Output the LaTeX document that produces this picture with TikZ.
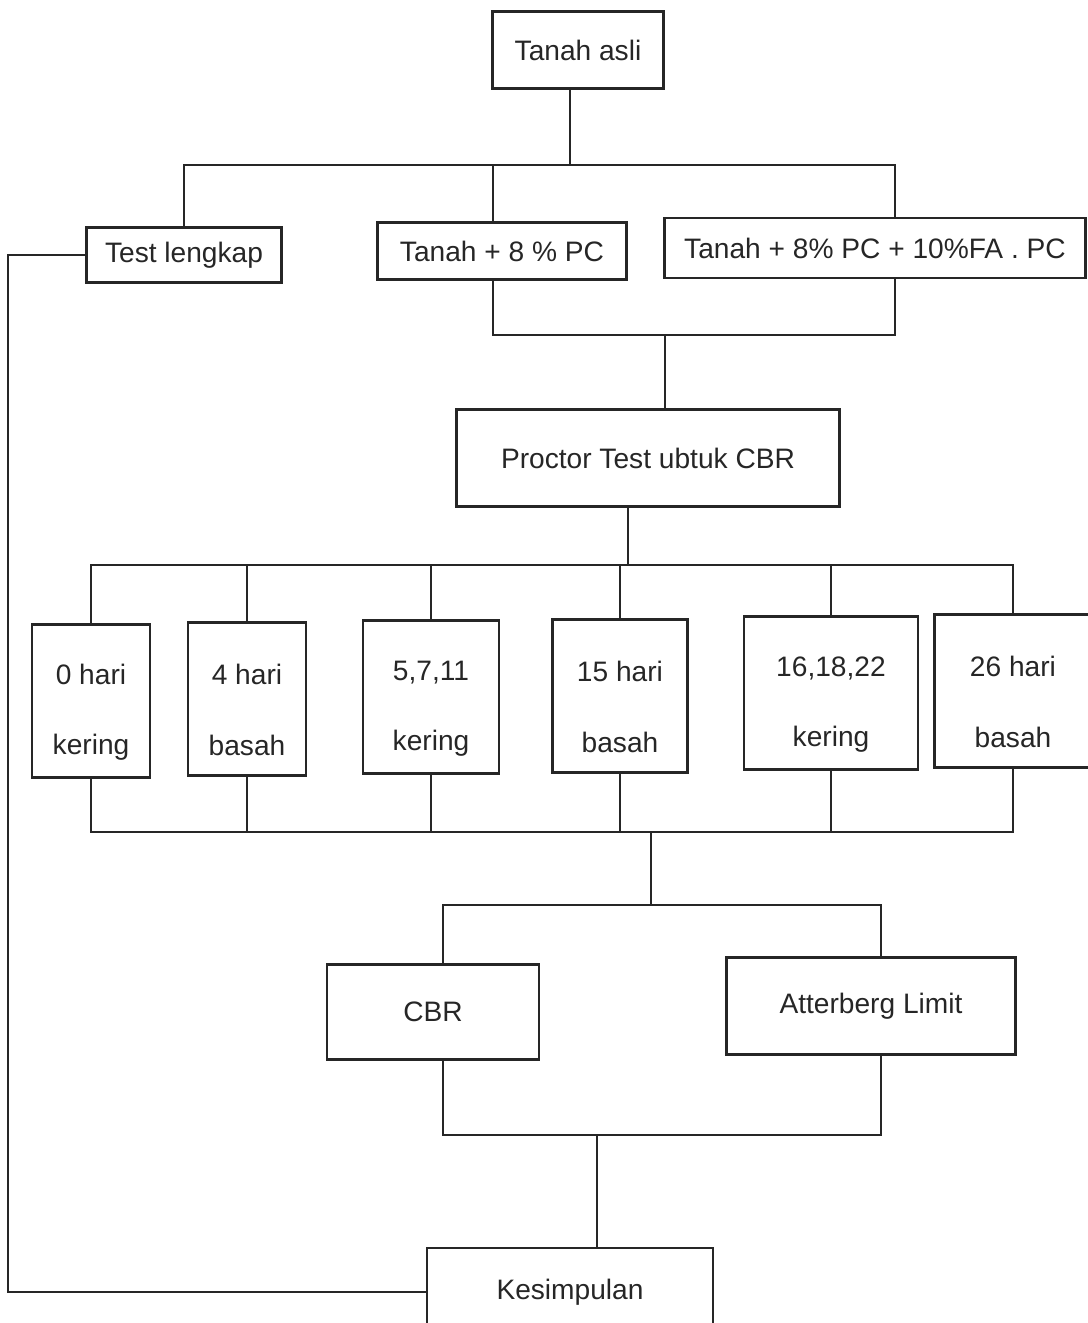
\documentclass[tikz,border=0pt]{standalone}
\usepackage{fontspec}
\setmainfont{Liberation Sans}
\usetikzlibrary{positioning, calc}
\definecolor{flowink}{HTML}{262626}
\tikzset{
  box/.style={rectangle, draw=flowink, line width=0.7pt, inner sep=0pt, align=center,
    text=flowink, font=\fontsize{8}{10}\selectfont},
  daybox/.style={box, minimum width=1.2cm, minimum height=1.53cm, text height=32pt,
    font=\fontsize{8}{20}\selectfont},
  link/.style={draw=flowink, line width=0.7pt},
}
\begin{document}
\begin{tikzpicture}[x=0.01cm, y=-0.01cm]
        \useasboundingbox (0,0) rectangle (1088,1323);
        \node[box, minimum width=1.71cm, minimum height=0.77cm] (asli) at (578,50) {Tanah asli};
        \node[box, minimum width=1.95cm, minimum height=0.55cm] (test) at (184,255) {Test lengkap};
        \node[box, minimum width=2.49cm, minimum height=0.57cm] (mixpc) at (502,251) {Tanah + 8 \% PC};
        \node[box, minimum width=4.21cm, minimum height=0.60cm] (mixfa) at (875,248) {Tanah + 8\% PC + 10\%FA . PC};
        \node[box, minimum width=3.83cm, minimum height=0.97cm] (proctor) at (648,458) {Proctor Test ubtuk CBR};
        \node[daybox, minimum width=1.18cm] (d0) at (91,701) {0 hari\\kering};
        \node[daybox, minimum width=1.18cm] (d4) at (247,699) {4 hari\\basah};
        \node[daybox, minimum width=1.36cm] (d5) at (431,697) {5,7,11\\kering};
        \node[daybox, minimum width=1.35cm] (d15) at (620,696) {15 hari\\basah};
        \node[daybox, minimum width=1.74cm] (d16) at (831,693) {16,18,22\\kering};
        \node[daybox, minimum width=1.57cm] (d26) at (1013,691) {26 hari\\basah};
        \node[box, minimum width=2.12cm, minimum height=0.95cm] (cbr) at (433,1012) {CBR};
        \node[box, minimum width=2.89cm, minimum height=0.97cm] (atter) at (871,1006) {Atterberg Limit};
        \node[box, minimum width=2.86cm, minimum height=0.88cm] (kes) at (570,1292) {Kesimpulan};
        \coordinate (b1) at (570,165);
        \coordinate (m1) at (665,335);
        \coordinate (b2) at (628,565);
        \coordinate (m2) at (651,832);
        \coordinate (b3) at (651,905);
        \coordinate (m3) at (597,1135);
        \draw[link] (b1 |- asli.south) -- (b1);
        \draw[link] (test.north) |- (b1) -| ([xshift=0.2cm]mixfa.north);
        \draw[link] ([xshift=-0.09cm]mixpc.north) -- ([xshift=-0.09cm]mixpc.north |- b1);
        \draw[link] ([xshift=-0.09cm]mixpc.south) |- (m1) -| ([xshift=0.2cm]mixfa.south);
        \draw[link] (m1) -- (m1 |- proctor.north);
        \draw[link] (b2 |- proctor.south) -- (b2);
        \draw[link] (d0.north) |- (b2) -| (d26.north);
        \draw[link] (d0.south) |- (m2) -| (d26.south);
        \foreach \n in {d4, d5, d15, d16}
          \draw[link] (\n.north) -- (\n.north |- b2) (\n.south) -- (\n.south |- m2);
        \draw[link] (m2) -- (b3);
        \draw[link] ([xshift=0.1cm]cbr.north) |- (b3) -| ([xshift=0.1cm]atter.north);
        \draw[link] ([xshift=0.1cm]cbr.south) |- (m3) -| ([xshift=0.1cm]atter.south);
        \draw[link] (m3) -- (m3 |- kes.north);
        \draw[link] (test.west) -- ++(-77,0) |- (kes.west);
      \end{tikzpicture}
\end{document}
